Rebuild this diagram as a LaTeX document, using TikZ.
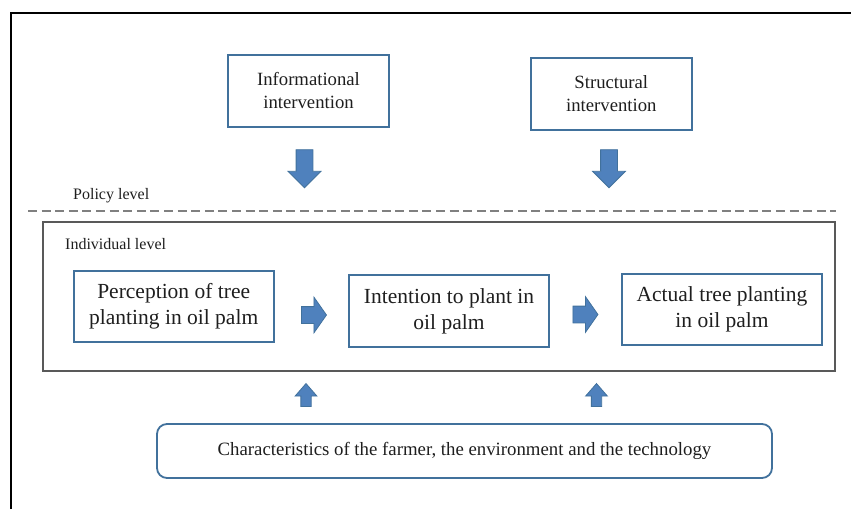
\documentclass[tikz,border=0pt]{standalone}
\usepackage{fontspec}
\setmainfont{Liberation Serif}
\usetikzlibrary{shapes.arrows}
\definecolor{boxblue}{RGB}{65,113,156}
\definecolor{arrowblue}{RGB}{79,129,189}
\definecolor{levelgray}{RGB}{89,89,89}
\definecolor{dashgray}{RGB}{128,128,128}
\definecolor{textgray}{RGB}{30,30,30}

\begin{document}
\begin{tikzpicture}[x=1pt,y=-1pt,text=textgray,
    box/.style={draw=boxblue,line width=1.8pt,align=center,inner sep=0pt,minimum width=200pt,minimum height=71pt,font=\fontsize{21.5}{26}\selectfont},
    topbox/.style={box,minimum width=161pt,minimum height=72pt,font=\fontsize{18.7}{23}\selectfont},
    blockarrow/.style={single arrow,draw=boxblue,fill=arrowblue,line width=0.8pt,inner xsep=0pt,single arrow head indent=0pt},
    downarrow/.style={blockarrow,rotate=-90,minimum height=38pt,inner ysep=8pt,single arrow head extend=8pt,single arrow tip angle=90},
    rightarrow/.style={blockarrow,minimum height=25pt,inner ysep=8pt,single arrow head extend=9.5pt,single arrow tip angle=110},
    uparrow/.style={blockarrow,rotate=90,minimum height=23pt,inner ysep=4.75pt,single arrow head extend=5.75pt,single arrow tip angle=82},
    levellabel/.style={anchor=base west,inner sep=0pt,font=\fontsize{16}{19}\selectfont}]
    \useasboundingbox (0,0) rectangle (851,509);
    \coordinate (frameB) at (11,509);
    \coordinate (frameTL) at (11,13);
    \coordinate (frameR) at (851,13);
    \draw[line width=1.5pt] (frameB) -- (frameTL) -- (frameR);

    \node[topbox] (info) at (308.5,91) {Informational\\intervention};
    \node[topbox] (struct) at (611.3,94) {Structural\\intervention};
    \node[downarrow] (downinfo) at (304.5,164.5) {};
    \node[downarrow] (downstruct) at (609,164.5) {};

    \node[levellabel] (policy) at (73,199) {Policy level};
    \coordinate (dashL) at (28,211);
    \coordinate (dashR) at (836,211);
    \draw[dashgray,line width=1.6pt,dash pattern=on 9pt off 4.6pt] (dashL) -- (dashR);

    \node[draw=levelgray,line width=1.6pt,minimum width=792pt,minimum height=149pt,inner sep=0pt] (indiv) at (439,296.5) {};
    \node[levellabel] (indivlabel) at (65,249) {Individual level};
    \node[box] (percep) at (173.7,306.3) {Perception of tree\\planting in oil palm};
    \node[box,minimum height=72pt] (intent) at (449,311) {Intention to plant in\\oil palm};
    \node[box] (actual) at (722,309.5) {Actual tree planting\\in oil palm};
    \node[rightarrow] (percintent) at (311,315) {};
    \node[rightarrow] (intentact) at (582.5,314.5) {};

    \node[uparrow] (upleft) at (306,398) {};
    \node[uparrow] (upright) at (596.5,398) {};
    \node[draw=boxblue,line width=1.8pt,rounded corners=10pt,minimum width=615pt,minimum height=54pt,inner sep=0pt,font=\fontsize{18.8}{22}\selectfont] (charac) at (464.5,451) {Characteristics of the farmer, the environment and the technology};
\end{tikzpicture}
\end{document}
